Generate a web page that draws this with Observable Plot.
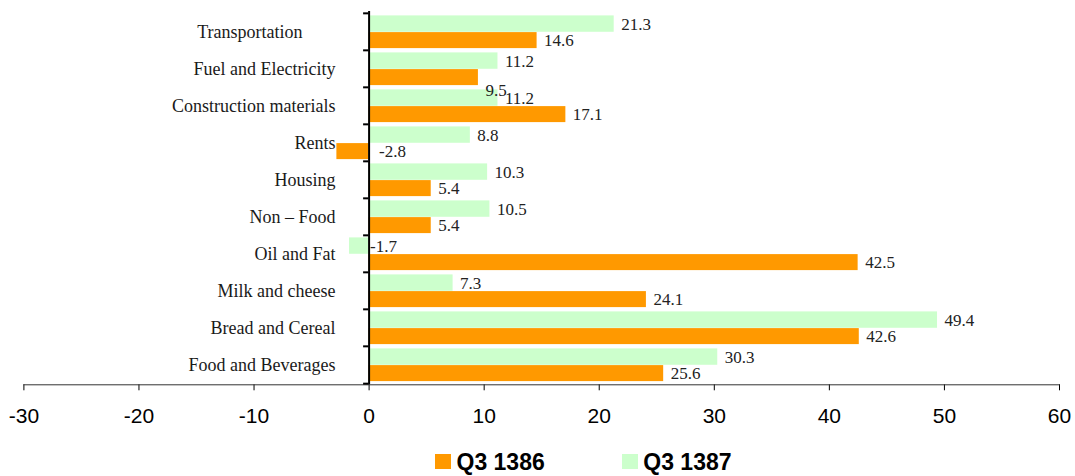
<!DOCTYPE html>
<html>
<head>
<meta charset="utf-8">
<script src="https://cdn.jsdelivr.net/npm/d3@7"></script>
<script src="https://cdn.jsdelivr.net/npm/@observablehq/plot@0.6"></script>
<style>
  body { margin: 0; background: #fff; }
  #wrap { position: relative; width: 1075px; height: 476px; }
  #legend { position: absolute; left: 0; top: 436px; width: 1075px; height: 40px;
            font: bold 23px "Liberation Sans", Arial, sans-serif; color: #000; }
  .sw { position: absolute; top: 18px; width: 15.7px; height: 15.4px; }
  .lb { position: absolute; top: 15.6px; line-height: 20px; white-space: nowrap; }
</style>
</head>
<body>
<div id="wrap"><div id="chart"></div><div id="legend"></div></div>
<script>
// ---- data ----
const categories = ["Transportation", "Fuel and Electricity", "Construction materials", "Rents",
  "Housing", "Non – Food", "Oil and Fat", "Milk and cheese", "Bread and Cereal", "Food and Beverages"];
const series = ["Q3 1386", "Q3 1387"];
const q1386 = [14.6, 9.5, 17.1, -2.8, 5.4, 5.4, 42.5, 24.1, 42.6, 25.6];
const q1387 = [21.3, 11.2, 11.2, 8.8, 10.3, 10.5, -1.7, 7.3, 49.4, 30.3];
const xTicks = [-30, -20, -10, 0, 10, 20, 30, 40, 50, 60];
const colors = ["#FF9900", "#CCFFCC"];

const rows = categories.flatMap((c, i) => [
  {category: c, series: series[0], value: q1386[i]},
  {category: c, series: series[1], value: q1387[i]}
]);
const s86 = rows.filter(d => d.series === series[0]);
const s87 = rows.filter(d => d.series === series[1]);

// ---- layout ----
const W = 1075, H = 436, mTop = 11, mBottom = 51.7, mLeft = 23.4, mRight = 16;
const bw = (H - mTop - mBottom) / categories.length;
const gTop = 2.4, mid = 19.1, oBot = 1.9;
const fmt = d => d.value.toFixed(1);
const serif = "Liberation Serif, Times New Roman, serif";

const chart = Plot.plot({
  width: W, height: H,
  marginTop: mTop, marginBottom: mBottom, marginLeft: mLeft, marginRight: mRight,
  style: {fontFamily: "Liberation Sans, Arial, sans-serif", fontSize: "21px", color: "#000", background: "#fff"},
  x: {domain: [-30, 60], ticks: xTicks, tickSize: 6, tickPadding: 17, label: null, tickFormat: d => String(d)},
  y: {domain: categories, padding: 0, axis: null},
  marks: [
    Plot.barX(s87, {y: "category", x: "value", fill: colors[1], insetTop: gTop, insetBottom: bw - mid}),
    Plot.barX(s86, {y: "category", x: "value", fill: colors[0], insetTop: mid, insetBottom: oBot}),
    Plot.frame({anchor: "bottom", stroke: "#333"}),
    Plot.ruleX([0], {stroke: "#000", strokeWidth: 2}),
    Plot.ruleY(categories, {y: d => d, x1: 0, x2: 0, insetLeft: -5.5, dy: -bw / 2, stroke: "#000", strokeWidth: 2}),
    Plot.ruleY(categories.slice(-1), {y: d => d, x1: 0, x2: 0, insetLeft: -5.5, dy: bw / 2, stroke: "#000", strokeWidth: 2}),
    // value labels, Q3 1387
    Plot.text(s87.filter(d => d.value >= 0), {y: "category", x: "value", text: fmt, textAnchor: "start",
      dx: 7, dy: -bw / 2 + (gTop + mid) / 2, fontFamily: serif, fontSize: 17, fill: "#222"}),
    Plot.text(s87.filter(d => d.value < 0), {y: "category", x: d => Math.max(d.value, 0), text: fmt, textAnchor: "start",
      dx: 1, dy: -bw / 2 + (gTop + mid) / 2, fontFamily: serif, fontSize: 17, fill: "#222"}),
    // value labels, Q3 1386
    Plot.text(s86.filter(d => d.value >= 0 && d.category !== categories[1]), {y: "category", x: "value", text: fmt, textAnchor: "start",
      dx: 7, dy: -bw / 2 + (mid + bw - oBot) / 2, fontFamily: serif, fontSize: 17, fill: "#222"}),
    Plot.text(s86.filter(d => d.category === categories[1]), {y: "category", x: "value", text: fmt, textAnchor: "start",
      dx: 7, dy: -bw / 2 + (mid + bw - oBot) / 2 + 13.3, fontFamily: serif, fontSize: 17, fill: "#222"}),
    Plot.text(s86.filter(d => d.value < 0), {y: "category", x: d => Math.max(d.value, 0), text: fmt, textAnchor: "start",
      dx: 10, dy: -bw / 2 + (mid + bw - oBot) / 2, fontFamily: serif, fontSize: 17, fill: "#222"}),
    // category labels
    Plot.text(categories.slice(1), {y: d => d, x: () => 0, text: d => d, textAnchor: "end", dx: -33.6,
      fontFamily: serif, fontSize: 18, fill: "#1a1a1a"}),
    Plot.text(categories.slice(0, 1), {y: d => d, x: () => 0, text: d => d, textAnchor: "end", dx: -66.6,
      fontFamily: serif, fontSize: 18, fill: "#1a1a1a"})
  ]
});
document.getElementById("chart").appendChild(chart);

// ---- legend ----
const legend = document.getElementById("legend");
const legendPos = [{sw: 435, tx: 456.5}, {sw: 622.2, tx: 643.3}];
series.forEach((s, i) => {
  const sw = document.createElement("div");
  sw.className = "sw"; sw.style.left = legendPos[i].sw + "px"; sw.style.background = colors[i];
  const lb = document.createElement("div");
  lb.className = "lb"; lb.style.left = legendPos[i].tx + "px"; lb.textContent = s;
  legend.appendChild(sw); legend.appendChild(lb);
});
</script>
</body>
</html>
